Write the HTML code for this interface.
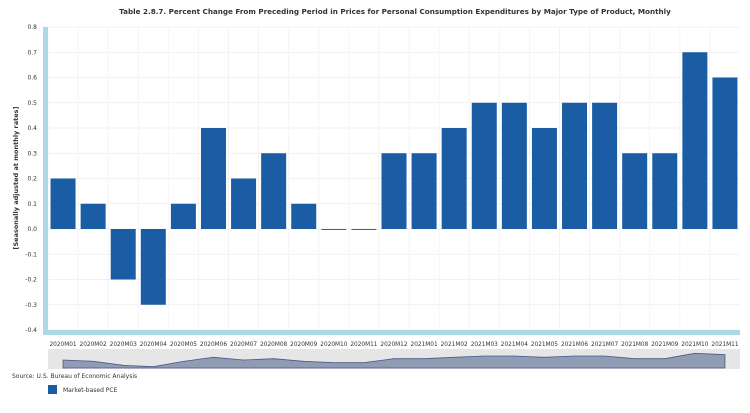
<!DOCTYPE html>
<html><head><meta charset="utf-8"><style>
body{margin:0;background:#fff;font-family:"DejaVu Sans","Liberation Sans",sans-serif;}
svg text{font-family:"DejaVu Sans","Liberation Sans",sans-serif;}
</style></head><body>
<svg id="c" width="750" height="409" xmlns="http://www.w3.org/2000/svg">
<text x="395" y="14" text-anchor="middle" font-size="7.2" font-weight="bold" fill="#333">Table 2.8.7. Percent Change From Preceding Period in Prices for Personal Consumption Expenditures by Major Type of Product, Monthly</text>
<g id="grid"></g>
<rect x="43" y="27" width="5" height="308" fill="#add8e6"/>
<rect x="48" y="330" width="692" height="5" fill="#add8e6"/>
<g id="bars"></g>
<g id="ylabels"></g>
<g id="xlabels"></g>
<text transform="translate(18,178) rotate(-90)" text-anchor="middle" font-size="6.5" font-weight="bold" fill="#333">[Seasonally adjusted at monthly rates]</text>
<rect x="48" y="349" width="692" height="20" fill="#e6e6e6"/>
<path id="nav" fill="#7b88a8" stroke="#4a5a88" stroke-width="0.8" fill-opacity="0.8"/>
<text x="12" y="378" font-size="6" fill="#333">Source: U.S. Bureau of Economic Analysis</text>
<rect x="48" y="385" width="9" height="9" fill="#1a5da5"/>
<text x="63" y="392" font-size="6" fill="#333">Market-based PCE</text>
</svg>
<script>
const categories=["2020M01","2020M02","2020M03","2020M04","2020M05","2020M06","2020M07","2020M08","2020M09","2020M10","2020M11","2020M12","2021M01","2021M02","2021M03","2021M04","2021M05","2021M06","2021M07","2021M08","2021M09","2021M10","2021M11"];
const values=[0.2,0.1,-0.2,-0.3,0.1,0.4,0.2,0.3,0.1,0,0,0.3,0.3,0.4,0.5,0.5,0.4,0.5,0.5,0.3,0.3,0.7,0.6];
const yTicks=[0.8,0.7,0.6,0.5,0.4,0.3,0.2,0.1,0,-0.1,-0.2,-0.3,-0.4];
const NS="http://www.w3.org/2000/svg";
const X0=48,X1=740,Y0=27,Y1=330,ymin=-0.4,ymax=0.8;
const bw=(X1-X0)/categories.length;
const y=v=>Y1-(v-ymin)/(ymax-ymin)*(Y1-Y0);
const xc=i=>X0+bw*(i+0.5);
function mk(t,a,p){const e=document.createElementNS(NS,t);for(const k in a)e.setAttribute(k,a[k]);document.getElementById(p).appendChild(e);return e;}
yTicks.forEach(t=>{
 const g=mk('line',{x1:X0,x2:X1,y1:y(t),y2:y(t),stroke:'#eee','stroke-width':0.8},'grid');
 
 
 const l=mk('text',{x:37,y:y(t)+2,'text-anchor':'end','font-size':6,fill:'#333'},'ylabels');
 l.textContent=(t===0?'0.0':t.toFixed(1));
 
 
});
categories.forEach((c,i)=>{
 const gl=mk('line',{x1:X0+bw*i,x2:X0+bw*i,y1:Y0,y2:Y1,stroke:'#f2f2f2','stroke-width':0.8},'grid');
 
 
 const v=values[i];
 const top=Math.min(y(v),y(0)),h=Math.max(Math.abs(y(v)-y(0)),0.8);
 const b=mk('rect',{x:xc(i)-12.5,y:top,width:25,height:h,fill:v===0?'#333':'#1a5da5'},'bars');
 
 
 const t=mk('text',{x:xc(i),y:346,'text-anchor':'middle','font-size':5.8,fill:'#333'},'xlabels');
 t.textContent=c;
 
 
});
const ny=v=>368-(v-ymin)/(ymax-ymin)*16;
let d='M'+xc(0)+','+ny(ymin);
values.forEach((v,i)=>{d+=' L'+xc(i)+','+ny(v);});
d+=' L'+xc(values.length-1)+','+ny(ymin)+' Z';
document.getElementById('nav').setAttribute('d',d);
</script>
</body></html>
